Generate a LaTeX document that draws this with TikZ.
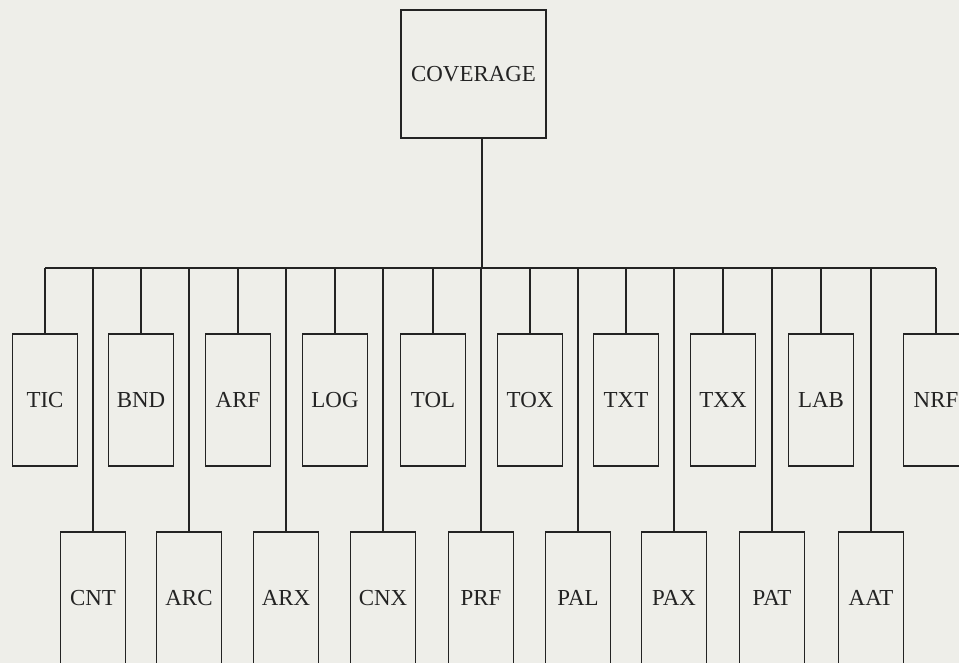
\documentclass[tikz,border=0pt]{standalone}
\usepackage{fontspec}
\setmainfont{Liberation Serif}
\usetikzlibrary{positioning,calc}
\definecolor{paper}{RGB}{238,238,233}
\definecolor{ink}{RGB}{35,35,35}
\tikzset{
  box/.style={draw=ink, line width=1.5bp, minimum width=65bp, minimum height=132bp,
    inner sep=0pt, font=\fontsize{23}{27}\selectfont, text=ink},
  link/.style={draw=ink, line width=1.5bp},
}
\begin{document}
\begin{tikzpicture}[x=1bp,y=-1bp]
  %
  \fill[paper] (0,0) rectangle (959,663);
  \clip (0,0) rectangle (959,663);
  %
  \node[box, minimum width=145bp, minimum height=128bp] (cov) at (473.5,74) {COVERAGE};
  \coordinate (bus) at (482,268);
  %
  \foreach \n/\t/\x in {tic/TIC/45, bnd/BND/141, arf/ARF/238, log/LOG/335, tol/TOL/433,
      tox/TOX/530, txt/TXT/626, txx/TXX/723, lab/LAB/821, nrf/NRF/936}
    \node[box] (\n) at (\x,400) {\t};
  \foreach \n/\t/\x in {cnt/CNT/93, arc/ARC/189, arx/ARX/286, cnx/CNX/383, prf/PRF/481,
      pal/PAL/578, pax/PAX/674, pat/PAT/772, aat/AAT/871}
    \node[box] (\n) at (\x,598) {\t};
  %
  \draw[link] (bus) -- (bus |- cov.south);
  \draw[link] (tic.north |- bus) -- (nrf.north |- bus);
  \foreach \n in {tic,bnd,arf,log,tol,tox,txt,txx,lab,nrf,cnt,arc,arx,cnx,prf,pal,pax,pat,aat}
    \draw[link] (\n.north) -- (\n.north |- bus);
  %
\end{tikzpicture}
\end{document}
